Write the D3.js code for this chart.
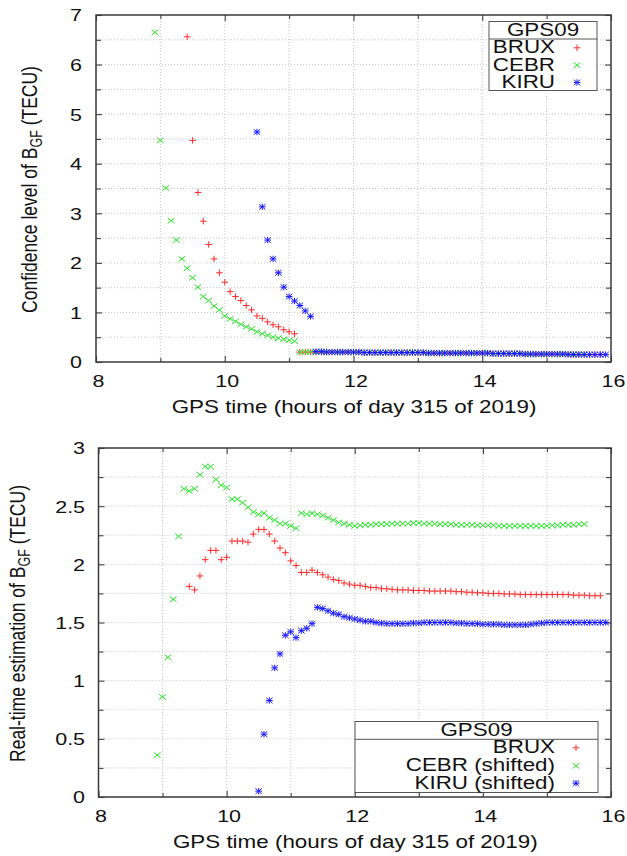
<!DOCTYPE html>
<html>
<head>
<meta charset="utf-8">
<script src="https://cdn.jsdelivr.net/npm/d3@7"></script>
<style>
  body { margin: 0; background: #fff; }
  svg { display: block; }
  text { font-family: "Liberation Sans", Arial, Helvetica, sans-serif; fill: #111; }
</style>
</head>
<body>
<svg id="chart" width="627" height="856"></svg>
<script>
// ---------------- data (5 minute epochs, hours of day 315 of 2019) ----------------
const stations = ['BRUX', 'CEBR', 'KIRU'];
const epochStep = 5 / 60;

// top panel: confidence level of B_GF (TECU)
const confStart = { BRUX: 9 + 25 / 60, CEBR: 8 + 55 / 60, KIRU: 10.5 };
const confBRUX = [6.56, 4.47, 3.42, 2.84, 2.37, 2.08, 1.80, 1.61, 1.42, 1.32, 1.24, 1.14, 1.05, 0.93, 0.88, 0.81, 0.75, 0.71, 0.65, 0.61, 0.57,
  0.20, 0.20, 0.20, 0.20, 0.20, 0.20, 0.20, 0.20, 0.20, 0.20, 0.20, 0.20,
  0.19, 0.19, 0.19, 0.19, 0.19, 0.19, 0.19, 0.19, 0.19, 0.19, 0.19, 0.19,
  0.18, 0.18, 0.18, 0.18, 0.18, 0.18, 0.18, 0.18, 0.18, 0.18, 0.18, 0.18,
  0.17, 0.17, 0.17, 0.17, 0.17, 0.17, 0.16, 0.16, 0.16, 0.16, 0.16, 0.16,
  0.16, 0.16, 0.16, 0.15, 0.15, 0.15, 0.15, 0.15, 0.15];
const confCEBR = [6.65, 4.47, 3.51, 2.85, 2.46, 2.08, 1.89, 1.70, 1.51, 1.32, 1.24, 1.13, 1.05, 0.93, 0.87, 0.82, 0.76, 0.71, 0.67, 0.61, 0.57, 0.54, 0.50, 0.48, 0.46, 0.44, 0.42,
  0.20, 0.20, 0.20, 0.20, 0.20, 0.20, 0.20, 0.20, 0.20, 0.20, 0.20, 0.20,
  0.19, 0.19, 0.19, 0.19, 0.19, 0.19, 0.19, 0.19, 0.19, 0.19, 0.19, 0.19,
  0.18, 0.18, 0.18, 0.18, 0.18, 0.18, 0.18, 0.18, 0.18, 0.18, 0.18, 0.18,
  0.17, 0.17, 0.17, 0.17, 0.17, 0.17, 0.16, 0.16, 0.16, 0.16, 0.16, 0.16,
  0.16, 0.16, 0.16, 0.16, 0.16, 0.16];
const confKIRU = [4.64, 3.13, 2.46, 2.08, 1.80, 1.51, 1.32, 1.23, 1.14, 1.03, 0.92,
  0.21, 0.21, 0.20, 0.20, 0.20, 0.20, 0.20, 0.20, 0.20,
  0.19, 0.19, 0.19, 0.19, 0.19, 0.19, 0.19, 0.19, 0.19, 0.19, 0.19, 0.19,
  0.18, 0.18, 0.18, 0.18, 0.18, 0.18, 0.18, 0.18, 0.18, 0.18, 0.18, 0.18,
  0.17, 0.17, 0.17, 0.17, 0.17, 0.17, 0.16, 0.16, 0.16, 0.16, 0.16, 0.16,
  0.16, 0.16, 0.15, 0.15, 0.15, 0.15, 0.15, 0.15, 0.15, 0.15];

// bottom panel: real-time estimation of B_GF (TECU)
const estStart = { BRUX: 9 + 25 / 60, CEBR: 8 + 55 / 60, KIRU: 10.5 };
const estBRUX = [1.81, 1.78, 1.90, 2.04, 2.12, 2.12, 2.04, 2.06, 2.20, 2.20, 2.20, 2.19, 2.26, 2.30, 2.30, 2.26, 2.20, 2.14, 2.10, 2.03,
  1.99, 1.93, 1.93, 1.95, 1.93, 1.91, 1.89, 1.87, 1.86, 1.84, 1.83, 1.82, 1.82, 1.81, 1.80, 1.80, 1.79, 1.79,
  1.785, 1.78, 1.78, 1.78, 1.775, 1.775, 1.775, 1.77, 1.77, 1.77, 1.77, 1.77,
  1.765, 1.765, 1.76, 1.76, 1.755, 1.755, 1.75, 1.75, 1.75, 1.745, 1.745, 1.745,
  1.74, 1.74, 1.74, 1.74, 1.74, 1.74, 1.74, 1.74, 1.74, 1.74, 1.735, 1.735,
  1.735, 1.73, 1.73, 1.73];
const estCEBR = [0.36, 0.86, 1.20, 1.70, 2.24, 2.65, 2.63, 2.65, 2.77, 2.84, 2.84, 2.73, 2.68, 2.66, 2.56, 2.56, 2.53, 2.49, 2.45, 2.43,
  2.44, 2.40, 2.38, 2.35, 2.35, 2.33, 2.31, 2.44, 2.43, 2.44, 2.43, 2.42, 2.40, 2.38, 2.36, 2.35, 2.34, 2.33,
  2.335, 2.34, 2.34, 2.345, 2.345, 2.345, 2.35, 2.35, 2.35, 2.35, 2.355, 2.355,
  2.35, 2.35, 2.35, 2.345, 2.345, 2.345, 2.34, 2.34, 2.34, 2.34, 2.335, 2.335,
  2.335, 2.335, 2.33, 2.33, 2.33, 2.33, 2.33, 2.33, 2.33, 2.33, 2.33, 2.33,
  2.335, 2.335, 2.34, 2.34, 2.34, 2.345, 2.345];
const estKIRU = [0.05, 0.54, 0.83, 1.11, 1.23, 1.39, 1.42, 1.37, 1.43, 1.45, 1.49, 1.63, 1.62, 1.60, 1.58, 1.57, 1.55, 1.54, 1.53, 1.52,
  1.51, 1.51, 1.50, 1.495, 1.49,
  1.49, 1.49, 1.49, 1.49, 1.495, 1.495, 1.50, 1.50, 1.50, 1.50, 1.50, 1.50,
  1.495, 1.495, 1.49, 1.49, 1.49, 1.485, 1.485, 1.485, 1.485, 1.48, 1.48, 1.48,
  1.48, 1.48, 1.485, 1.49, 1.495, 1.50, 1.50, 1.50, 1.50, 1.50, 1.50, 1.50,
  1.50, 1.50, 1.50, 1.50, 1.50];

// axis ticks
const xTicks = [8, 10, 12, 14, 16];
const xMinorTicks = [9, 11, 13, 15];
const yTicksTop = [0, 1, 2, 3, 4, 5, 6, 7];
const yMinorTop = [0.5, 1.5, 2.5, 3.5, 4.5, 5.5, 6.5];
const yTicksBottom = [0, 0.5, 1, 1.5, 2, 2.5, 3];
const yMinorBottom = [0.25, 0.75, 1.25, 1.75, 2.25, 2.75];

const colors = { BRUX: '#ff2a2a', CEBR: '#1ee61e', KIRU: '#1a1aff' };
const shapes = { BRUX: 'plus', CEBR: 'cross', KIRU: 'star' };
const markerPath = {
  plus: 'M-3.3,0H3.3M0,-3.2V3.2',
  cross: 'M-3.4,-2.7L3.4,2.7M-3.4,2.7L3.4,-2.7',
  star: 'M-3.4,0H3.4M0,-3.2V3.2M-3.2,-2.8L3.2,2.8M-3.2,2.8L3.2,-2.8'
};

const toPoints = (start, vals) => vals.map((v, i) => ({ t: start + i * epochStep, v }));

const svg = d3.select('#chart');
const SX = 1.3;   // horizontal stretch of the original bitmap text

function drawPanel(p) {
  const x = d3.scaleLinear().domain([8, 16]).range([p.left, p.right]);
  const y = d3.scaleLinear().domain([0, p.yMax]).range([p.bottom, p.top]);
  const g = svg.append('g');

  /********* grid *********/
  const xGrid = xTicks.concat(xMinorTicks).filter(d => d > 8 && d < 16);
  const yGrid = p.yTicks.concat(p.yMinor).filter(d => d > 0 && d < p.yMax);
  g.append('g').selectAll('line').data(xGrid).join('line')
    .attr('x1', d => x(d)).attr('x2', d => x(d))
    .attr('y1', p.top).attr('y2', p.bottom);
  g.append('g').selectAll('line').data(yGrid).join('line')
    .attr('x1', p.left).attr('x2', p.right)
    .attr('y1', d => y(d)).attr('y2', d => y(d));
  g.selectAll('line')
    .attr('stroke', '#bdbdbd').attr('stroke-width', 0.9).attr('stroke-dasharray', '1,2');

  /********* ticks (mirrored, inward) *********/
  const tickAxis = (gen, tr, vals, size, fmt) => {
    const a = g.append('g').attr('transform', tr)
      .call(gen.tickValues(vals).tickSize(-size).tickFormat(fmt || (() => '')));
    a.select('.domain').remove();
    a.selectAll('line').attr('stroke', '#404040').attr('stroke-width', 1.1);
    return a;
  };
  const xb = tickAxis(d3.axisBottom(x), `translate(0,${p.bottom})`, xTicks, 6, d3.format('d'));
  tickAxis(d3.axisBottom(x), `translate(0,${p.bottom})`, xMinorTicks, 4);
  tickAxis(d3.axisTop(x), `translate(0,${p.top})`, xTicks, 6);
  tickAxis(d3.axisTop(x), `translate(0,${p.top})`, xMinorTicks, 4);
  const yl = tickAxis(d3.axisLeft(y), `translate(${p.left},0)`, p.yTicks, 6, d => String(d));
  tickAxis(d3.axisLeft(y), `translate(${p.left},0)`, p.yMinor, 5);
  tickAxis(d3.axisRight(y), `translate(${p.right},0)`, p.yTicks, 6);
  tickAxis(d3.axisRight(y), `translate(${p.right},0)`, p.yMinor, 5);

  xb.selectAll('text')
    .attr('y', 25).attr('dy', 0).attr('x', 1.5)
    .attr('transform', `scale(${SX},1)`)
    .style('font-size', '16.5px').attr('fill', '#111');
  yl.selectAll('text')
    .attr('x', -p.yLabelGap / SX).attr('dy', '0.36em')
    .attr('transform', `scale(${SX},1)`)
    .style('font-size', '16.5px').attr('fill', '#111');

  /********* frame *********/
  g.append('rect')
    .attr('x', p.left).attr('y', p.top)
    .attr('width', p.right - p.left).attr('height', p.bottom - p.top)
    .attr('fill', 'none').attr('stroke', '#3a3a3a').attr('stroke-width', 1.5);

  /********* points *********/
  stations.forEach(s => {
    g.append('g').selectAll('path').data(toPoints(p.start[s], p.values[s])).join('path')
      .attr('d', markerPath[shapes[s]])
      .attr('transform', d => `translate(${x(d.t)},${y(d.v)})`)
      .attr('fill', 'none').attr('stroke', colors[s]).attr('stroke-width', 1);
  });

  /********* legend *********/
  const L = p.legend;
  const lg = g.append('g');
  lg.append('rect')
    .attr('x', L.x0).attr('y', L.y0).attr('width', L.x1 - L.x0).attr('height', L.y1 - L.y0)
    .attr('fill', '#fff').attr('stroke', '#555').attr('stroke-width', 1);
  lg.append('line')
    .attr('x1', L.x0).attr('x2', L.x1).attr('y1', L.sep).attr('y2', L.sep)
    .attr('stroke', '#555').attr('stroke-width', 1);
  lg.append('text')
    .attr('transform', `translate(${(L.x0 + L.x1) / 2},${L.titleY}) scale(1.28,1)`)
    .attr('text-anchor', 'middle').style('font-size', '17.5px')
    .text('GPS09');
  stations.forEach((s, i) => {
    lg.append('text')
      .attr('transform', `translate(${L.textX},${L.rowY[i]}) scale(1.28,1)`)
      .attr('text-anchor', 'end').style('font-size', '17.5px')
      .text(p.names[i]);
    lg.append('path')
      .attr('d', markerPath[shapes[s]])
      .attr('transform', `translate(${L.markX},${L.rowY[i] - 5.5})`)
      .attr('fill', 'none').attr('stroke', colors[s]).attr('stroke-width', 1);
  });

  /********* axis titles *********/
  g.append('text')
    .attr('transform', `translate(${(p.left + p.right) / 2 + 0.5},${p.bottom + 51}) scale(1.245,1)`)
    .attr('text-anchor', 'middle').style('font-size', '18px')
    .text('GPS time (hours of day 315 of 2019)');

  const yt = g.append('text')
    .attr('transform', `translate(${p.yTitleX},${(p.top + p.bottom) / 2 + 1}) scale(1.27,1) rotate(-90)`)
    .attr('text-anchor', 'middle').style('font-size', '17.5px');
  yt.append('tspan').text(p.yTitle + ' of B');
  yt.append('tspan').attr('dy', 4).style('font-size', '12.5px').text('GF');
  yt.append('tspan').attr('dy', -4).text(' (TECU)');
}

drawPanel({
  left: 96, right: 611, top: 15, bottom: 362,
  yMax: 7, yTicks: yTicksTop, yMinor: yMinorTop, yLabelGap: 14,
  start: confStart,
  values: { BRUX: confBRUX, CEBR: confCEBR, KIRU: confKIRU },
  names: ['BRUX', 'CEBR', 'KIRU'],
  yTitle: 'Confidence level', yTitleX: 36.5,
  legend: { x0: 489, x1: 597, y0: 21.5, y1: 90.5, sep: 39, titleY: 36,
            textX: 555, markX: 577, rowY: [53.3, 70.7, 88] }
});

drawPanel({
  left: 98.5, right: 611, top: 448, bottom: 797,
  yMax: 3, yTicks: yTicksBottom, yMinor: yMinorBottom, yLabelGap: 13.5,
  start: estStart,
  values: { BRUX: estBRUX, CEBR: estCEBR, KIRU: estKIRU },
  names: ['BRUX', 'CEBR (shifted)', 'KIRU (shifted)'],
  yTitle: 'Real-time estimation', yTitleX: 25,
  legend: { x0: 355, x1: 598, y0: 721.5, y1: 792.5, sep: 739.3, titleY: 736,
            textX: 555, markX: 576, rowY: [753.3, 771.3, 788.7] }
});
</script>
</body>
</html>
